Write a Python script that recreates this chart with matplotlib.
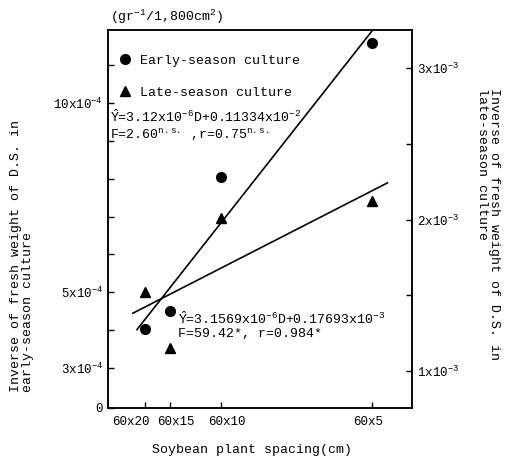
import numpy as np
import matplotlib
matplotlib.use("Agg")
import matplotlib.pyplot as plt
import matplotlib.transforms as mtransforms

# =========================
# Data
# =========================
spacing_labels = ["60x20", "60x15", "60x10", "60x5"]
row_cm = 60
plant_cm = [20, 15, 10, 5]

# inverse of fresh weight, early-season culture (left axis)
early_inv = [4.03e-4, 4.51e-4, 8.04e-4, 11.58e-4]
# inverse of fresh weight, late-season culture (right axis)
late_inv = [1.52e-3, 1.15e-3, 2.01e-3, 2.12e-3]

# planting density (plants per m2)
density = [10000 / (row_cm * p) for p in plant_cm]

FONT = "Liberation Mono"
plt.rcParams["font.family"] = [FONT, "DejaVu Sans Mono"]
plt.rcParams["mathtext.fontset"] = "custom"
plt.rcParams["mathtext.rm"] = FONT
plt.rcParams["mathtext.it"] = FONT
plt.rcParams["mathtext.bf"] = FONT
plt.rcParams["font.size"] = 9.5

W, H = 513, 466
fig = plt.figure(figsize=(W / 100, H / 100), dpi=100)
ax = fig.add_axes([108 / W, 1 - 408 / H, 304 / W, 378 / H])
ax2 = ax.twinx()

# =========================
# Axes limits / ticks
# =========================
ax.set_xlim(4.26, 37.7)
ax.set_ylim(1.943e-4, 11.93e-4)
ax2.set_ylim(0.756e-3, 3.251e-3)

left_ticks = [i * 1e-4 for i in range(3, 12)]
left_labels = {3: r"3x10$^{-4}$", 5: r"5x10$^{-4}$", 10: r"10x10$^{-4}$"}
ax.set_yticks([1.943e-4] + left_ticks)
ax.set_yticklabels(["0"] + [left_labels.get(round(t * 1e4), "") for t in left_ticks])

right_ticks = [1e-3, 1.5e-3, 2e-3, 2.5e-3, 3e-3]
right_labels = [r"1x10$^{-3}$", "", r"2x10$^{-3}$", "", r"3x10$^{-3}$"]
ax2.set_yticks(right_ticks)
ax2.set_yticklabels(right_labels)

ax.set_xticks(density)
ax.set_xticklabels(spacing_labels)

ax.tick_params(axis="both", direction="in", length=4, width=1, labelsize=9)
ax2.tick_params(axis="y", direction="in", length=4, width=1, labelsize=9)
ax.tick_params(axis="x", pad=6)

# spread the crowded x labels a bit like the original
shifts = [-14, 6, 6, -4]
for lab, dx in zip(ax.get_xticklabels(), shifts):
    off = mtransforms.ScaledTranslation(dx / 100, 0, fig.dpi_scale_trans)
    lab.set_transform(lab.get_transform() + off)

for a in (ax, ax2):
    for s in a.spines.values():
        s.set_linewidth(1.1)

# =========================
# Points and regression lines
# =========================
ax.plot(density, early_inv, "o", color="black", markersize=7, label="Early-season culture")
ax2.plot(density, late_inv, "^", color="black", markersize=7, label="Late-season culture")

b1, a1 = np.polyfit(density, early_inv, 1)
xs1 = np.array([7.45, 34.0])
ax.plot(xs1, a1 + b1 * xs1, color="black", lw=1.2)

b2, a2 = np.polyfit(density, late_inv, 1)
xs2 = np.array([7.0, 35.0])
ax2.plot(xs2, a2 + b2 * xs2, color="black", lw=1.2)

# legend
h1, l1 = ax.get_legend_handles_labels()
h2, l2 = ax2.get_legend_handles_labels()
ax2.legend(h1 + h2, l1 + l2, loc="upper left", bbox_to_anchor=(0.035, 0.935),
           frameon=False, handlelength=1.0, handletextpad=0.6,
           labelspacing=1.5, borderpad=0, borderaxespad=0, fontsize=9.5)

# =========================
# Texts
# =========================
def ftext(x, y, s, **kw):
    fig.text(x / W, 1 - y / H, s, **kw)

ftext(110, 17, r"(gr$^{-1}$/1,800cm$^{2}$)", ha="left", va="center")

ftext(110, 117, r"$\hat{\mathrm{Y}}$=3.12x10$^{-6}$D+0.11334x10$^{-2}$", ha="left", va="center")
ftext(110, 135, r"F=2.60$^{\mathrm{n.s.}}$ ,r=0.75$^{\mathrm{n.s.}}$", ha="left", va="center")

ftext(178, 319, r"$\hat{\mathrm{Y}}$=3.1569x10$^{-6}$D+0.17693x10$^{-3}$", ha="left", va="center")
ftext(178, 334, "F=59.42*, r=0.984*", ha="left", va="center")

ftext(252, 450, "Soybean plant spacing(cm)", ha="center", va="center")

ftext(22, 392, "Inverse of fresh weight of D.S. in\nearly-season culture",
      rotation=90, ha="center", va="bottom", multialignment="left", linespacing=1.1)
ftext(488, 88, "Inverse of fresh weight of D.S. in\nlate-season culture",
      rotation=270, ha="center", va="top", multialignment="left", linespacing=1.1)

fig.savefig("out.png", dpi=100)
